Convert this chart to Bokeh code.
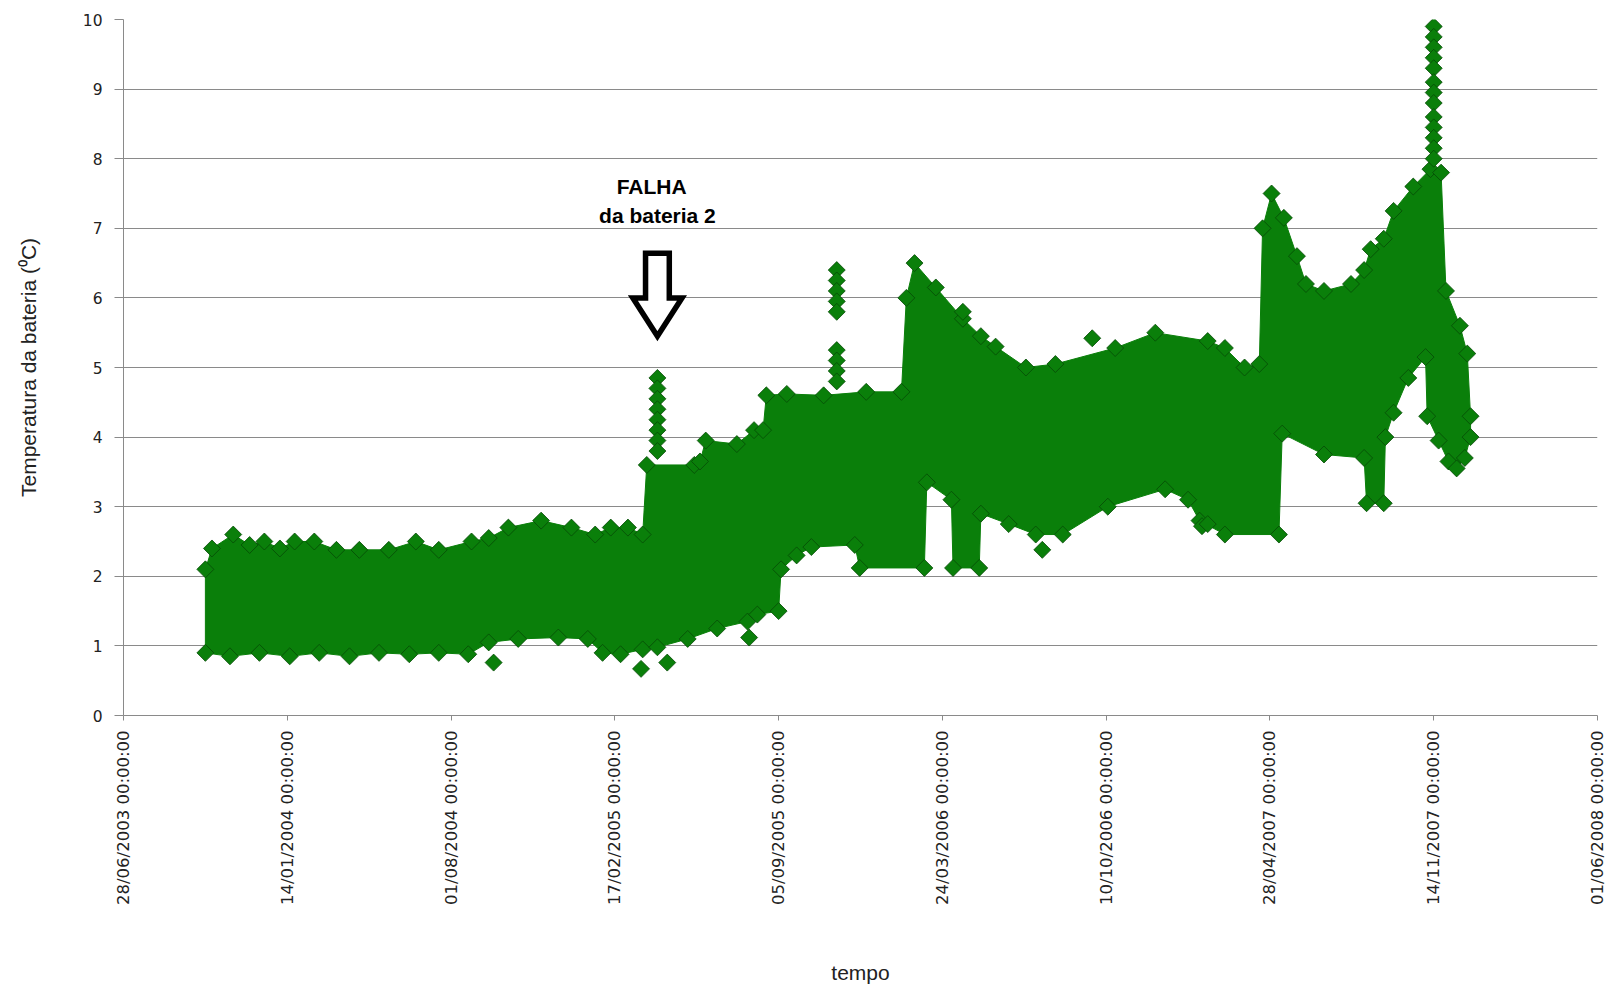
import math
import pandas as pd
from bokeh.plotting import figure
from bokeh.models import FixedTicker, DatetimeTickFormatter, Label, Range1d
from bokeh.embed import file_html
from bokeh.resources import INLINE

# ---------------- data ----------------
inicio = "28/06/2003"   # origin of the day offsets below

rotulos_x = ["28/06/2003 00:00:00", "14/01/2004 00:00:00", "01/08/2004 00:00:00",
             "17/02/2005 00:00:00", "05/09/2005 00:00:00", "24/03/2006 00:00:00",
             "10/10/2006 00:00:00", "28/04/2007 00:00:00", "14/11/2007 00:00:00",
             "01/06/2008 00:00:00"]
rotulos_y = [0, 1, 2, 3, 4, 5, 6, 7, 8, 9, 10]

# upper envelope of the dense scatter (days since 28/06/2003, temperature)
sup_dias = [100, 108, 134, 154, 172, 191, 209, 233, 260, 288, 324, 357, 385, 425, 446,
            470, 510, 547, 576, 595, 616, 634, 639, 697, 704, 711, 749, 770, 781, 785,
            810, 855, 907, 950, 956, 966, 992, 1025, 1047, 1065, 1102, 1138, 1211, 1260,
            1324, 1345, 1369, 1387, 1391, 1402, 1417, 1433, 1444, 1466, 1499, 1515, 1523,
            1539, 1551, 1575, 1596, 1609, 1615, 1632, 1641, 1645]
sup_temp = [2.1, 2.4, 2.6, 2.45, 2.5, 2.4, 2.5, 2.5, 2.38, 2.38, 2.38, 2.5, 2.38, 2.5, 2.55,
            2.7, 2.8, 2.7, 2.6, 2.7, 2.7, 2.6, 3.6, 3.6, 3.65, 3.95, 3.9, 4.1, 4.1, 4.6,
            4.62, 4.6, 4.65, 4.65, 6.0, 6.5, 6.15, 5.7, 5.45, 5.3, 5.0, 5.05, 5.28, 5.5,
            5.38, 5.28, 5.0, 5.05, 7.0, 7.5, 7.15, 6.6, 6.2, 6.1, 6.2, 6.4, 6.7,
            6.85, 7.25, 7.6, 7.85, 7.8, 6.1, 5.6, 5.2, 4.3]

# lower envelope
inf_dias = [100, 130, 166, 203, 239, 276, 312, 349, 385, 421, 446, 482, 531, 567, 585,
            607, 634, 652, 689, 725, 762, 774, 800, 803, 822, 840, 893, 899, 978, 981,
            1011, 1013, 1045, 1047, 1081, 1114, 1147, 1202, 1272, 1300, 1314, 1345, 1411,
            1415, 1466, 1515, 1518, 1539, 1541, 1551, 1569, 1590, 1592, 1606, 1618, 1628,
            1638, 1645]
inf_temp = [0.9, 0.85, 0.9, 0.85, 0.9, 0.85, 0.9, 0.88, 0.9, 0.88, 1.05, 1.1, 1.12, 1.1, 0.9,
            0.88, 0.95, 0.98, 1.1, 1.25, 1.35, 1.45, 1.5, 2.1, 2.3, 2.42, 2.45, 2.12, 2.12, 3.35,
            3.1, 2.12, 2.12, 2.9, 2.75, 2.6, 2.6, 3.0, 3.25, 3.1, 2.8, 2.6, 2.6,
            4.05, 3.75, 3.7, 3.05, 3.05, 4.0, 4.35, 4.85, 5.15, 4.3, 3.95, 3.65, 3.55,
            3.7, 4.0]

# vertical columns of readings above the band
pico_falha_dia = 652
pico_falha_temp = [4.85, 4.7, 4.55, 4.4, 4.25, 4.1, 3.95, 3.8]
pico_2005_dia = 871
pico_2005_temp = [6.4, 6.25, 6.1, 5.95, 5.8, 5.25, 5.1, 4.95, 4.8]
pico_2007_dia = 1600
pico_2007_temp = [9.9, 9.75, 9.6, 9.45, 9.3, 9.1, 8.95, 8.8, 8.6, 8.45, 8.3, 8.15, 8.0]

# isolated readings
isolados_dias = [452, 632, 664, 764, 1122, 1183, 1025, 1317, 1324]
isolados_temp = [0.76, 0.67, 0.76, 1.12, 2.38, 5.42, 5.8, 2.72, 2.75]

# ---------------- drawing ----------------
base = pd.to_datetime(inicio, format="%d/%m/%Y")


def to_dt(dias):
    return (base + pd.to_timedelta(list(dias), unit="D")).to_numpy()


def to_ms(dia):
    return (base + pd.Timedelta(days=dia)).value / 1e6


ticks_ms = [pd.to_datetime(s, format="%d/%m/%Y %H:%M:%S").value / 1e6 for s in rotulos_x]

VERDE = "#0a7f0a"
BORDA = "#064a06"
CINZA = "#8a8a8a"

p = figure(width=1606, height=988, output_backend="svg", toolbar_location=None,
           x_axis_type="datetime",
           x_range=Range1d(ticks_ms[0], ticks_ms[-1]),
           y_range=Range1d(rotulos_y[0], rotulos_y[-1]),
           min_border_left=123, min_border_right=9, min_border_top=19,
           min_border_bottom=273)
p.outline_line_color = None
p.background_fill_color = "white"
p.border_fill_color = "white"

# dense band as a polygon between envelopes
poly_x = list(to_dt(sup_dias)) + list(to_dt(inf_dias[::-1]))
poly_y = list(sup_temp) + list(inf_temp[::-1])
p.patch(poly_x, poly_y, fill_color=VERDE, line_color=VERDE, line_width=1)

mk = dict(marker="square", angle=math.pi / 4, size=12, fill_color=VERDE,
          line_color=BORDA, line_width=0.8)
p.scatter(to_dt(sup_dias), sup_temp, **mk)
p.scatter(to_dt(inf_dias), inf_temp, **mk)
p.scatter(to_dt([pico_falha_dia] * len(pico_falha_temp)), pico_falha_temp, **mk)
p.scatter(to_dt([pico_2005_dia] * len(pico_2005_temp)), pico_2005_temp, **mk)
p.scatter(to_dt([pico_2007_dia] * len(pico_2007_temp)), pico_2007_temp, **mk)
p.scatter(to_dt(isolados_dias), isolados_temp, **mk)

# hollow arrow pointing to the failure
c, hs, hh = pico_falha_dia, 14.5, 30
arrow_d = [c - hs, c + hs, c + hs, c + hh, c, c - hh, c - hs]
arrow_y = [6.64, 6.64, 6.0, 6.0, 5.45, 6.0, 6.0]
p.patch(to_dt(arrow_d), arrow_y, fill_color="white", line_color="black",
        line_width=5.5, line_join="miter")

p.add_layout(Label(x=to_ms(645), y=7.6, text="FALHA", text_align="center",
                   text_baseline="middle", text_font="Liberation Sans",
                   text_font_style="bold", text_font_size="21px", text_color="black"))
p.add_layout(Label(x=to_ms(652), y=7.18, text="da bateria 2", text_align="center",
                   text_baseline="middle", text_font="Liberation Sans",
                   text_font_style="bold", text_font_size="21px", text_color="black"))

# axes
fmt = "%d/%m/%Y %H:%M:%S"
p.xaxis.ticker = FixedTicker(ticks=ticks_ms)
p.xaxis.formatter = DatetimeTickFormatter(microseconds=fmt, milliseconds=fmt, seconds=fmt,
                                          minsec=fmt, minutes=fmt, hourmin=fmt, hours=fmt,
                                          days=fmt, months=fmt, years=fmt)
p.xaxis.major_label_orientation = math.pi / 2
p.xaxis.major_label_text_font = "DejaVu Sans"
p.xaxis.major_label_text_font_size = "16.5px"
p.xaxis.major_label_text_color = "#222222"
p.xaxis.major_label_standoff = 10
p.xaxis.major_tick_out = 5
p.xaxis.major_tick_in = 0
p.xaxis.minor_tick_line_color = None
p.xaxis.axis_line_color = CINZA
p.xaxis.major_tick_line_color = CINZA
p.xaxis.axis_label = "tempo"
p.xaxis.axis_label_text_font = "Liberation Sans"
p.xaxis.axis_label_text_font_style = "normal"
p.xaxis.axis_label_text_font_size = "21px"
p.xaxis.axis_label_text_color = "#222222"
p.xaxis.axis_label_standoff = 53

p.yaxis.ticker = FixedTicker(ticks=rotulos_y)
p.yaxis.major_label_text_font = "DejaVu Sans"
p.yaxis.major_label_text_font_size = "15.5px"
p.yaxis.major_label_text_color = "#222222"
p.yaxis.major_label_standoff = 12
p.yaxis.major_tick_out = 9
p.yaxis.major_tick_in = 0
p.yaxis.minor_tick_line_color = None
p.yaxis.axis_line_color = CINZA
p.yaxis.major_tick_line_color = CINZA
p.yaxis.axis_label = "Temperatura da bateria (\u2070C)"
p.yaxis.axis_label_text_font = "Liberation Sans"
p.yaxis.axis_label_text_font_style = "normal"
p.yaxis.axis_label_text_font_size = "21px"
p.yaxis.axis_label_text_color = "#222222"
p.yaxis.axis_label_standoff = 40

p.xgrid.visible = False
p.ygrid.grid_line_color = CINZA
p.ygrid.grid_line_width = 1

open("out.html", "w").write(file_html(p, INLINE))
